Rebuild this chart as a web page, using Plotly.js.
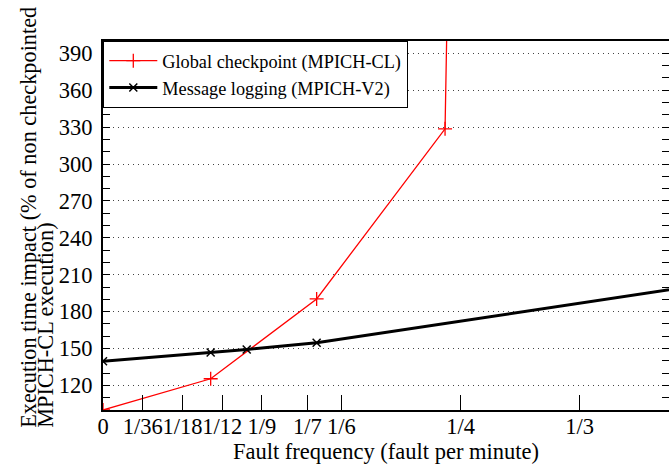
<!DOCTYPE html>
<html>
<head>
<meta charset="utf-8">
<script src="https://cdn.plot.ly/plotly-3.0.1.min.js"></script>
<style>html,body{margin:0;padding:0;background:#fff;}#chart{width:669px;height:464px;}</style>
</head>
<body>
<div id="chart"></div>
<script>
// Fault frequency (fault per minute)
const ckptX = [0, 0.0753, 0.1494, 0.2392, 0.2406];
const ckptY = [100, 125.4, 190.3, 328.6, 420];
const logX = [0, 0.0753, 0.1005, 0.1494, 0.5];
const logY = [139.6, 146.7, 149.2, 154.6, 216];
const xTickVals = [0, 1/36, 1/18, 1/12, 1/9, 1/7, 1/6, 1/4, 1/3];
const xTickText = ['0', '1/36', '1/18', '1/12', '1/9', '1/7', '1/6', '1/4', '1/3'];
const seriesNames = ['Global checkpoint (MPICH-CL)', 'Message logging (MPICH-V2)'];
const yTitle1 = 'Execution time impact (% of non checkpointed';
const yTitle2 = 'MPICH-CL execution)';
const xTitle = 'Fault frequency (fault per minute)';

const FONT = 'Liberation Serif, Times New Roman, serif';

const traces = [
  {
    x: ckptX, y: ckptY, name: seriesNames[0], type: 'scatter', mode: 'lines+markers',
    legendgroup: 'a',
    line: {color: '#ff0000', width: 1.3},
    marker: {symbol: 'cross-thin', size: 10, color: '#ff0000', line: {color: '#ff0000', width: 1.3}}
  },
  {
    x: logX, y: logY, name: seriesNames[1], type: 'scatter', mode: 'lines+markers',
    legendgroup: 'b',
    line: {color: '#000000', width: 3},
    marker: {symbol: 'x-thin', size: 8, color: '#000000', line: {color: '#000000', width: 1.5}}
  }
];

const layout = {
  width: 669, height: 464,
  margin: {l: 103, r: 0, t: 41, b: 54},
  paper_bgcolor: '#ffffff', plot_bgcolor: '#ffffff',
  font: {family: FONT, size: 23, color: '#000'},
  showlegend: true,
  legend: {
    x: 0, y: 1, xanchor: 'left', yanchor: 'top',
    bgcolor: '#ffffff', bordercolor: '#000', borderwidth: 1.3,
    font: {family: FONT, size: 18.3, color: '#000'},
    tracegroupgap: 0, itemwidth: 48
  },
  xaxis: {
    range: [0, 566/1430],
    tickmode: 'array', tickvals: xTickVals, ticktext: xTickText,
    tickangle: 0,
    ticks: 'inside', ticklen: 15, tickwidth: 1, tickcolor: '#000',
    showline: true, linewidth: 2, linecolor: '#000', mirror: true,
    showgrid: false, zeroline: false,
    tickfont: {family: FONT, size: 22.5},
    ticklabelstandoff: -5,
    title: {text: xTitle, font: {family: FONT, size: 22.5}, standoff: 2}
  },
  yaxis: {
    range: [100, 400],
    tick0: 0, dtick: 30,
    ticks: 'inside', ticklen: 7, tickwidth: 1, tickcolor: '#000',
    showline: true, linewidth: 2, linecolor: '#000', mirror: 'ticks',
    showgrid: true, gridcolor: '#444', gridwidth: 1, griddash: '1px,4px',
    zeroline: false,
    tickfont: {family: FONT, size: 22.5},
    ticklabelstandoff: 4,
    minor: {tick0: 0, dtick: 10, ticks: 'inside', ticklen: 7, tickwidth: 1, tickcolor: '#000', showgrid: false}
  },
  annotations: [
    {xref: 'paper', yref: 'paper', x: 0, y: -0.055, xshift: -74, xanchor: 'center', yanchor: 'bottom',
     text: yTitle1, textangle: -90, showarrow: false, font: {family: FONT, size: 22.3, color: '#000'}},
    {xref: 'paper', yref: 'paper', x: 0, y: -0.055, xshift: -57, xanchor: 'center', yanchor: 'bottom',
     text: yTitle2, textangle: -90, showarrow: false, font: {family: FONT, size: 22.3, color: '#000'}}
  ]
};

Plotly.newPlot('chart', traces, layout, {displayModeBar: false, staticPlot: true});
</script>
</body>
</html>
